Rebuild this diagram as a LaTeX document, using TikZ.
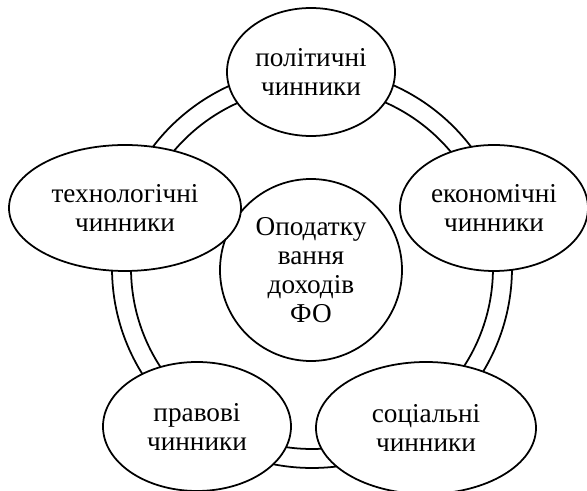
\documentclass[tikz,border=0pt]{standalone}
\usepackage{fontspec}
\setmainfont{Liberation Serif}
\usetikzlibrary{shapes.geometric}

\begin{document}
\begin{tikzpicture}[
    factor/.style={
        ellipse,
        draw,
        fill=white,
        line width=1pt,
        inner sep=0pt
    },
    ring/.style={
        draw,
        line width=1pt
    },
    caption/.style={
        align=center,
        inner sep=0pt,
        font=\fontsize{15.5}{16.5}\selectfont
    }
]

\useasboundingbox (-6.24,-4.46) rectangle (5.5,5.36);

% Ring
\coordinate (ring) at (0,0);
\draw [ring] (ring) circle (4.0);
\draw [ring] (ring) circle (3.62);

% Centre
\node [factor, circle, minimum size=3.64cm] (tax) at (-0.02,-0.04) {};
\node [caption] (tax-text) at (tax) {Оподатку\\вання\\доходів\\ФО};

% Factors
\node [factor, minimum width=3.36cm, minimum height=2.56cm] (political) at (-0.02,3.92) {};
\node [caption] (political-text) at (political) {політичні\\чинники};

\node [factor, minimum width=3.76cm, minimum height=2.52cm] (economic) at (3.64,1.2) {};
\node [caption] (economic-text) at (economic) {економічні\\чинники};

\node [factor, minimum width=4.4cm, minimum height=2.64cm] (social) at (2.28,-3.2) {};
\node [caption] (social-text) at (social) {соціальні\\чинники};

\node [factor, minimum width=3.76cm, minimum height=2.58cm] (legal) at (-2.3,-3.17) {};
\node [caption] (legal-text) at (legal) {правові\\чинники};

\node [factor, minimum width=4.64cm, minimum height=2.52cm] (tech) at (-3.74,1.2) {};
\node [caption] (tech-text) at (tech) {технологічні\\чинники};

\end{tikzpicture}
\end{document}
